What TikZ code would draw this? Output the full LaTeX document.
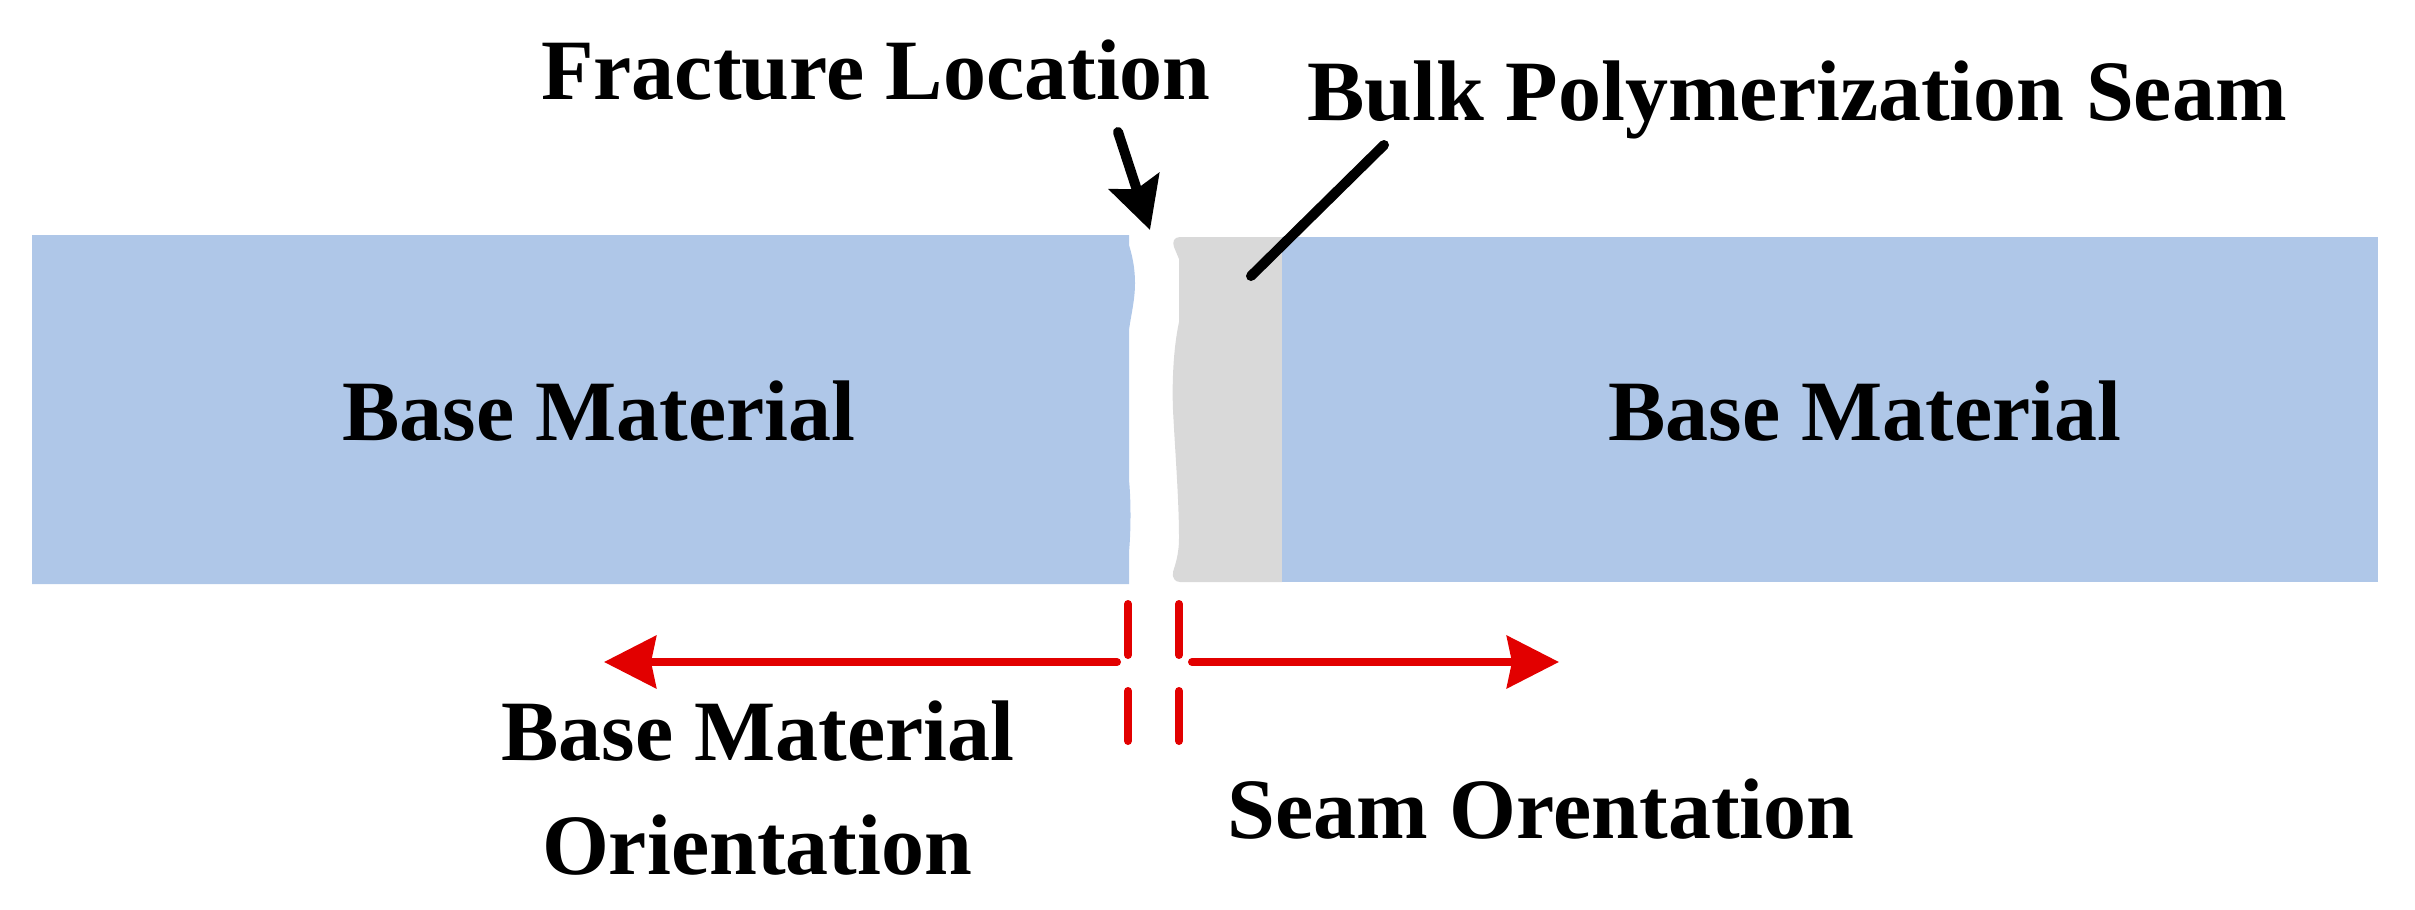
\documentclass[tikz,border=0pt]{standalone}
\usepackage{fontspec}
\setmainfont{Liberation Serif}
\usetikzlibrary{arrows.meta}
\definecolor{basecol}{RGB}{175,199,232}
\definecolor{seamcol}{RGB}{217,217,217}
\definecolor{redcol}{RGB}{226,0,0}
\tikzset{
  lbl/.style={inner sep=0pt,font=\bfseries\fontsize{43}{50}\selectfont,anchor=base},
  blackline/.style={draw=black,line width=5pt,line cap=round},
  redline/.style={draw=redcol,line width=4pt,line cap=round},
  redarrow/.style={redline,-{Stealth[length=26pt,width=26pt,inset=2.5pt]}},
  blackarrow/.style={blackline,-{Stealth[length=25.5pt,width=26pt,inset=4pt]}},
}
\begin{document}
\begin{tikzpicture}[x=0.5pt,y=-0.5pt]
\useasboundingbox (0,0) rectangle (2415,910);
% left base material
\fill[basecol] (32,235) -- (1129,235) -- (1129,245) .. controls (1133,258) and (1135,270) .. (1135,283)
  .. controls (1135,300) and (1131,315) .. (1129,330) -- (1129,480) .. controls (1131,500) and (1131,530) .. (1129,552) -- (1129,584) -- (32,584) -- cycle;
% seam
\fill[seamcol] (1282,237) -- (1180,237) .. controls (1174,237) and (1172,242) .. (1174,247)
  -- (1179,259) -- (1179,322) .. controls (1173,350) and (1172,385) .. (1173,410)
  .. controls (1175,450) and (1179,500) .. (1179,538) .. controls (1179,555) and (1175,565) .. (1173,572)
  .. controls (1172,578) and (1175,582) .. (1180,582) -- (1282,582) -- cycle;
% right base material
\fill[basecol] (1282,237) rectangle (2378,582);
% labels
\node[lbl] (frac) at (876,99) {Fracture Location};
\node[lbl] (bulk) at (1797,120) {Bulk Polymerization Seam};
\node[lbl] (bml) at (599,440) {Base Material};
\node[lbl] (bmr) at (1865,440) {Base Material};
\node[lbl] (bmo) at (758,760) {Base Material};
\node[lbl] (bmo2) at (757,874) {Orientation};
\node[lbl] (seamo) at (1541,838) {Seam Orentation};
% connector ends
\coordinate (fracA) at (1118,132);
\coordinate (fracB) at (1150,230);
\coordinate (bulkA) at (1384,145);
\coordinate (bulkB) at (1251,276);
\coordinate (rs) at (1192,662);
\coordinate (re) at (1559,662);
\coordinate (ls) at (1117,662);
\coordinate (le) at (604,662);
\coordinate (d1a) at (1128,604);
\coordinate (d1b) at (1128,655);
\coordinate (d1c) at (1128,691);
\coordinate (d1d) at (1128,741);
\coordinate (d2a) at (1179,604);
\coordinate (d2b) at (1179,655);
\coordinate (d2c) at (1179,691);
\coordinate (d2d) at (1179,741);
\draw[blackarrow] (fracA) -- (fracB);
\draw[blackline] (bulkA) -- (bulkB);
\draw[redarrow] (rs) -- (re);
\draw[redarrow] (ls) -- (le);
\draw[redline] (d1a) -- (d1b);
\draw[redline] (d1c) -- (d1d);
\draw[redline] (d2a) -- (d2b);
\draw[redline] (d2c) -- (d2d);
\end{tikzpicture}
\end{document}
